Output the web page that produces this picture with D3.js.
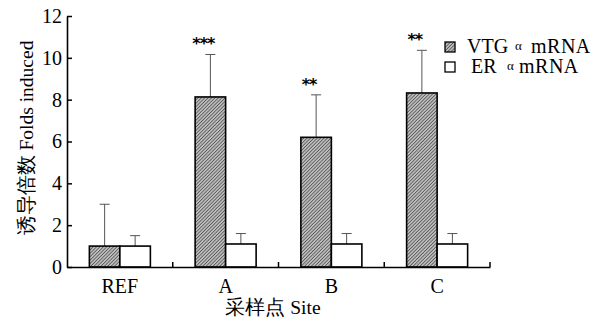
<!DOCTYPE html>
<html>
<head>
<meta charset="utf-8">
<script src="https://cdn.jsdelivr.net/npm/d3@7"></script>
<style>
  body { margin: 0; background: #fff; }
  text { font-family: "Liberation Serif", "Times New Roman", serif; fill: #000; }
</style>
</head>
<body>
<script>
(function(){

    //chart data
    var sites = ["REF", "A", "B", "C"];
    var vtgMean = [1.0, 8.13, 6.2, 8.32];
    var vtgErr = [2.0, 2.03, 2.03, 2.04];
    var erMean = [1.0, 1.1, 1.1, 1.1];
    var erErr = [0.5, 0.5, 0.5, 0.5];
    var stars = ["", "***", "**", "**"];
    var yTicks = [0, 2, 4, 6, 8, 10, 12];
    var seriesNames = ["VTG", "ER"];

    //frame
    var width = 603, height = 320,
        left = 67, right = 490, top = 16, bottom = 267;

    var svg = d3.select("body").append("svg")
        .attr("width", width)
        .attr("height", height);

    //hatch pattern
    var p = 2.4;
    var pat = svg.append("defs").append("pattern")
        .attr("id", "hatch")
        .attr("patternUnits", "userSpaceOnUse")
        .attr("width", p)
        .attr("height", p)
        .attr("patternTransform", "rotate(45)");
    pat.append("rect").attr("width", p).attr("height", p).attr("fill", "#bcbcbc");
    pat.append("line")
        .attr("x1", 0).attr("y1", 0).attr("x2", 0).attr("y2", p)
        .attr("stroke", "#2a2a2a").attr("stroke-width", 1.1);

    var x = d3.scaleBand().domain(sites).range([left, right]);
    var y = d3.scaleLinear().domain([0, 12]).range([bottom, top]);
    var barW = 30.5;

    function drawSeries(means, errs, offset, fill){
        //error bars
        svg.selectAll(null)
            .data(sites)
            .enter().append("path")
            .attr("d", function(d, i){
                var cx = x(d) + x.bandwidth() / 2 + offset + barW / 2;
                var y0 = y(means[i]), y1 = y(means[i] + errs[i]);
                return "M" + cx + "," + y0 + "V" + y1 + "M" + (cx - 5) + "," + y1 + "H" + (cx + 5);
            })
            .attr("stroke", "#555")
            .attr("stroke-width", 1)
            .attr("fill", "none");

        svg.selectAll(null)
            .data(sites)
            .enter().append("rect")
            .attr("x", function(d){ return x(d) + x.bandwidth() / 2 + offset; })
            .attr("y", function(d, i){ return y(means[i]); })
            .attr("width", barW)
            .attr("height", function(d, i){ return bottom - y(means[i]); })
            .attr("fill", fill)
            .attr("stroke", "#000")
            .attr("stroke-width", 1.6);
    }

    drawSeries(vtgMean, vtgErr, -barW, "url(#hatch)");
    drawSeries(erMean, erErr, 0, "#fff");

    //significance stars
    svg.selectAll(".star")
        .data(sites)
        .enter().append("text")
        .attr("class", "star")
        .attr("x", function(d){ return x(d) + x.bandwidth() / 2 - barW / 2 - 7; })
        .attr("y", function(d, i){ return y(vtgMean[i] + vtgErr[i]) - 5; })
        .attr("text-anchor", "middle")
        .style("font-family", "DejaVu Sans, sans-serif")
        .style("font-size", "16px")
        .style("font-weight", "bold")
        .style("letter-spacing", "-1px")
        .text(function(d, i){ return stars[i]; });

    //y axis (ticks point inward)
    var yAxis = svg.append("g")
        .attr("transform", "translate(" + left + ",0)")
        .call(d3.axisLeft(y).tickValues(yTicks).tickSize(-5).tickSizeOuter(0));
    yAxis.select(".domain").attr("stroke-width", 1.6);
    yAxis.selectAll(".tick line").attr("stroke-width", 1.5);
    yAxis.selectAll("text")
        .attr("x", -5)
        .style("font-family", "Liberation Serif, serif")
        .style("font-size", "20px");

    //x axis
    var xAxis = svg.append("g")
        .attr("transform", "translate(0," + bottom + ")")
        .call(d3.axisBottom(x).tickSize(0).tickSizeOuter(0));
    xAxis.select(".domain").attr("stroke-width", 1.6);
    xAxis.selectAll("text")
        .attr("dy", "1.15em")
        .style("font-family", "Liberation Serif, serif")
        .style("font-size", "20px");
    //inward boundary ticks
    svg.selectAll(".bound")
        .data(sites.slice(1).concat([null]))
        .enter().append("line")
        .attr("x1", function(d){ return d ? x(d) : right; })
        .attr("x2", function(d){ return d ? x(d) : right; })
        .attr("y1", bottom)
        .attr("y2", bottom - 5)
        .attr("stroke", "#000")
        .attr("stroke-width", 1.5);

    //axis titles
    svg.append("text")
        .attr("transform", "translate(33,138) rotate(-90)")
        .attr("text-anchor", "middle")
        .style("font-size", "19.5px")
        .text("诱导倍数 Folds induced");

    svg.append("text")
        .attr("x", 273)
        .attr("y", 314)
        .attr("text-anchor", "middle")
        .style("font-size", "19.5px")
        .text("采样点 Site");

    //legend
    var legendX = 445,
        nameX = [22, 26],
        alphaX = [70, 62],
        mrnaX = [86, 74];
    var legend = svg.selectAll(".legend")
        .data(seriesNames)
        .enter().append("g")
        .attr("class", "legend")
        .attr("transform", function(d, i){ return "translate(" + legendX + "," + (47 + i * 20) + ")"; });
    legend.append("rect")
        .attr("x", 0).attr("y", -5)
        .attr("width", 10).attr("height", 10)
        .attr("fill", function(d, i){ return i === 0 ? "url(#hatch)" : "#fff"; })
        .attr("stroke", "#000")
        .attr("stroke-width", 1.3);
    var lt = legend.append("text")
        .attr("y", 6)
        .style("font-size", "20px");
    lt.append("tspan").attr("x", function(d, i){ return nameX[i]; }).text(function(d){ return d; });
    lt.append("tspan").attr("x", function(d, i){ return alphaX[i]; })
        .style("font-size", "13px").attr("dy", -3).text("α");
    lt.append("tspan").attr("x", function(d, i){ return mrnaX[i]; }).attr("dy", 3)
        .style("letter-spacing", "0.5px").text("mRNA");

})();
</script>
</body>
</html>
